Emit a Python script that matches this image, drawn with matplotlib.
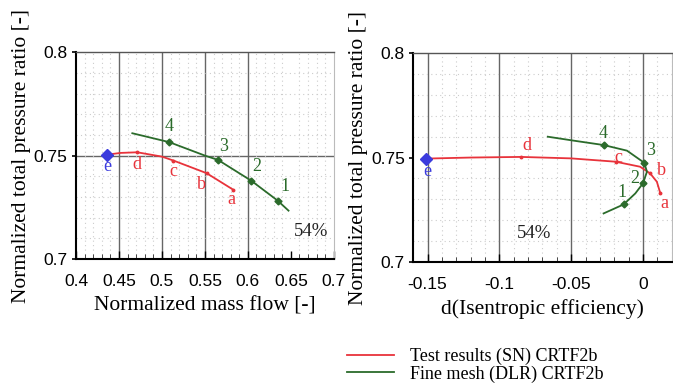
import matplotlib
matplotlib.use("Agg")
import matplotlib.pyplot as plt
from matplotlib.ticker import FormatStrFormatter, MultipleLocator

# ---- data ------------------------------------------------------------------
# left panel: normalized mass flow vs normalized total pressure ratio
GREEN_LEFT_X = [0.4655, 0.5085, 0.550, 0.5653, 0.6038, 0.6345, 0.6473]
GREEN_LEFT_Y = [0.7608, 0.7565, 0.7500, 0.7479, 0.7379, 0.7283, 0.7234]
RED_LEFT_X = [0.437, 0.452, 0.4712, 0.500, 0.5134, 0.552, 0.5826]
RED_LEFT_Y = [0.7505, 0.7513, 0.7516, 0.7495, 0.7476, 0.7415, 0.7336]

# right panel: d(isentropic efficiency) vs normalized total pressure ratio
GREEN_RIGHT_X = [-0.0663, -0.0482, -0.0274, -0.0111, 0.0009, 0.0028, 0.0,
                 -0.0053, -0.0135, -0.0274]
GREEN_RIGHT_Y = [0.7600, 0.7581, 0.7560, 0.7533, 0.7475, 0.7432, 0.7376,
                 0.7328, 0.7275, 0.7232]
RED_RIGHT_X = [-0.151, -0.120, -0.085, -0.050, -0.019, -0.002, 0.005,
               0.0097, 0.012]
RED_RIGHT_Y = [0.7495, 0.7500, 0.7503, 0.7496, 0.7480, 0.7456, 0.7424,
               0.7384, 0.7331]

# labelled operating points
GREEN_LABELS = ["1", "2", "3", "4"]
GREEN_PTS_LEFT_X = [0.6345, 0.6038, 0.5653, 0.5085]
GREEN_PTS_LEFT_Y = [0.7283, 0.7379, 0.7479, 0.7565]
GREEN_PTS_RIGHT_X = [-0.0135, 0.0, 0.0009, -0.0274]
GREEN_PTS_RIGHT_Y = [0.7275, 0.7376, 0.7475, 0.7560]

RED_LABELS = ["a", "b", "c", "d"]
RED_PTS_LEFT_X = [0.5826, 0.552, 0.5134, 0.4712]
RED_PTS_LEFT_Y = [0.7336, 0.7415, 0.7476, 0.7516]
RED_PTS_RIGHT_X = [0.012, 0.005, -0.019, -0.085]
RED_PTS_RIGHT_Y = [0.7331, 0.7424, 0.7480, 0.7503]

E_LEFT = (0.436, 0.7505)
E_RIGHT = (-0.151, 0.7495)

LEFT_XTICKS = [0.4, 0.45, 0.5, 0.55, 0.6, 0.65, 0.7]
RIGHT_XTICKS = [-0.15, -0.1, -0.05, 0.0]
YTICKS = [0.7, 0.75, 0.8]
SPEED_LABEL = "54%"

RED = "#e8333b"
GREEN = "#2b6b2b"
BLUE = "#3b3bdd"

plt.rcParams["axes.unicode_minus"] = False
SERIF = "Liberation Serif"
SANS = "Liberation Sans"

fig = plt.figure(figsize=(6.73, 3.89), dpi=100)
ax_l = fig.add_axes([0.113, 0.334, 0.383, 0.532])
ax_r = fig.add_axes([0.614, 0.327, 0.384, 0.536])


def style(ax, xlim, xticks, major_x):
    ax.set_xlim(*xlim)
    ax.set_ylim(0.7, 0.8)
    ax.set_xticks(xticks)
    ax.set_yticks(YTICKS)
    ax.xaxis.set_major_formatter(FormatStrFormatter("%g"))
    ax.yaxis.set_major_formatter(FormatStrFormatter("%g"))
    ax.xaxis.set_minor_locator(MultipleLocator(0.01))
    ax.yaxis.set_minor_locator(MultipleLocator(0.01))
    ax.grid(which="minor", color="#cccccc", linestyle=(0, (1, 3)), linewidth=0.8)
    for xv in major_x:
        ax.axvline(xv, color="#666666", linewidth=1.0, zorder=1)
    ax.tick_params(axis="y", which="major", length=3, width=1.2,
                   direction="out", labelsize=12.5, pad=3)
    ax.tick_params(axis="y", which="minor", length=0)
    ax.tick_params(axis="x", which="major", length=6, width=1.0,
                   direction="in", labelsize=12.5, pad=11)
    ax.tick_params(axis="x", which="minor", length=3.5, width=0.7,
                   direction="in", color="#444444")
    for lab in ax.get_xticklabels() + ax.get_yticklabels():
        lab.set_fontfamily(SANS)
    for s in ("left", "bottom"):
        ax.spines[s].set_linewidth(1.5)
    ax.spines["top"].set_color("#555555")
    ax.spines["top"].set_linewidth(1.0)
    ax.spines["right"].set_color("#bbbbbb")
    ax.spines["right"].set_linewidth(0.8)
    ax.set_ylabel("Normalized total pressure ratio [-]", fontfamily=SERIF,
                  fontsize=15.5, labelpad=2)


def annotate(ax, labels, xs, ys, color, offsets):
    for lab, x, y, off in zip(labels, xs, ys, offsets):
        ax.annotate(lab, (x, y), xytext=off, textcoords="offset points",
                    ha="center", va="center", color=color,
                    fontfamily=SERIF, fontsize=13)


# ---- left panel ------------------------------------------------------------
style(ax_l, (0.4, 0.7), LEFT_XTICKS, [0.45, 0.5, 0.55, 0.6])
ax_l.axhline(0.75, color="#666666", linewidth=1.0, zorder=1)
ax_l.plot(RED_LEFT_X, RED_LEFT_Y, color=RED, linewidth=1.3, zorder=3,
          label="Test results (SN) CRTF2b")
ax_l.plot(GREEN_LEFT_X, GREEN_LEFT_Y, color=GREEN, linewidth=1.3, zorder=3,
          label="Fine mesh (DLR) CRTF2b")
ax_l.plot(RED_PTS_LEFT_X, RED_PTS_LEFT_Y, "o", color=RED, markersize=1.8, zorder=4)
ax_l.plot(GREEN_PTS_LEFT_X, GREEN_PTS_LEFT_Y, "D", color=GREEN, markersize=3.5, zorder=4)
ax_l.plot(*E_LEFT, "D", color=BLUE, markersize=6.5, zorder=5, clip_on=False)
annotate(ax_l, GREEN_LABELS, GREEN_PTS_LEFT_X, GREEN_PTS_LEFT_Y, GREEN,
         [(5, 10), (4, 10), (4, 10), (0, 11.5)])
annotate(ax_l, RED_LABELS, RED_PTS_LEFT_X, RED_PTS_LEFT_Y, RED,
         [(-1, -7.5), (-4, -8), (0, -8), (0, -8.5)])
annotate(ax_l, ["e"], [E_LEFT[0]], [E_LEFT[1]], BLUE, [(0, -8.5)])
ax_l.text(0.674, 0.7135, SPEED_LABEL, ha="center", va="center",
          fontfamily=SERIF, fontsize=13.5, color="#222222")
ax_l.set_xlabel("Normalized mass flow [-]", fontfamily=SERIF, fontsize=15.5,
                labelpad=5)

# ---- right panel -----------------------------------------------------------
style(ax_r, (-0.16, 0.02), RIGHT_XTICKS, [-0.15, -0.1, -0.05, 0.0])
ax_r.plot(RED_RIGHT_X, RED_RIGHT_Y, color=RED, linewidth=1.3, zorder=3)
ax_r.plot(GREEN_RIGHT_X, GREEN_RIGHT_Y, color=GREEN, linewidth=1.3, zorder=3)
ax_r.plot(RED_PTS_RIGHT_X, RED_PTS_RIGHT_Y, "o", color=RED, markersize=1.8, zorder=4)
ax_r.plot(GREEN_PTS_RIGHT_X, GREEN_PTS_RIGHT_Y, "D", color=GREEN, markersize=3.5, zorder=4)
ax_r.plot(*E_RIGHT, "D", color=BLUE, markersize=6.5, zorder=5)
annotate(ax_r, GREEN_LABELS, GREEN_PTS_RIGHT_X, GREEN_PTS_RIGHT_Y, GREEN,
         [(-1.5, 8.5), (-6, 3.5), (4.5, 8.5), (0, 8)])
annotate(ax_r, RED_LABELS, RED_PTS_RIGHT_X, RED_PTS_RIGHT_Y, RED,
         [(3, -8), (8.5, 2), (2, 3), (4, 8)])
annotate(ax_r, ["e"], [E_RIGHT[0]], [E_RIGHT[1]], BLUE, [(0.5, -9)])
ax_r.text(-0.076, 0.7135, SPEED_LABEL, ha="center", va="center",
          fontfamily=SERIF, fontsize=13.5, color="#222222")
ax_r.set_xlabel("d(Isentropic efficiency)", fontfamily=SERIF, fontsize=15.5,
                labelpad=5)

# ---- legend ----------------------------------------------------------------
handles, labels = ax_l.get_legend_handles_labels()
fig.legend(handles, labels, loc="upper left", bbox_to_anchor=(0.515, 0.105),
           frameon=False, prop={"family": SERIF, "size": 13},
           handlelength=2.6, handletextpad=0.9, labelspacing=0.0,
           borderaxespad=0.0, borderpad=0.0)

fig.savefig("out.png", dpi=100)
